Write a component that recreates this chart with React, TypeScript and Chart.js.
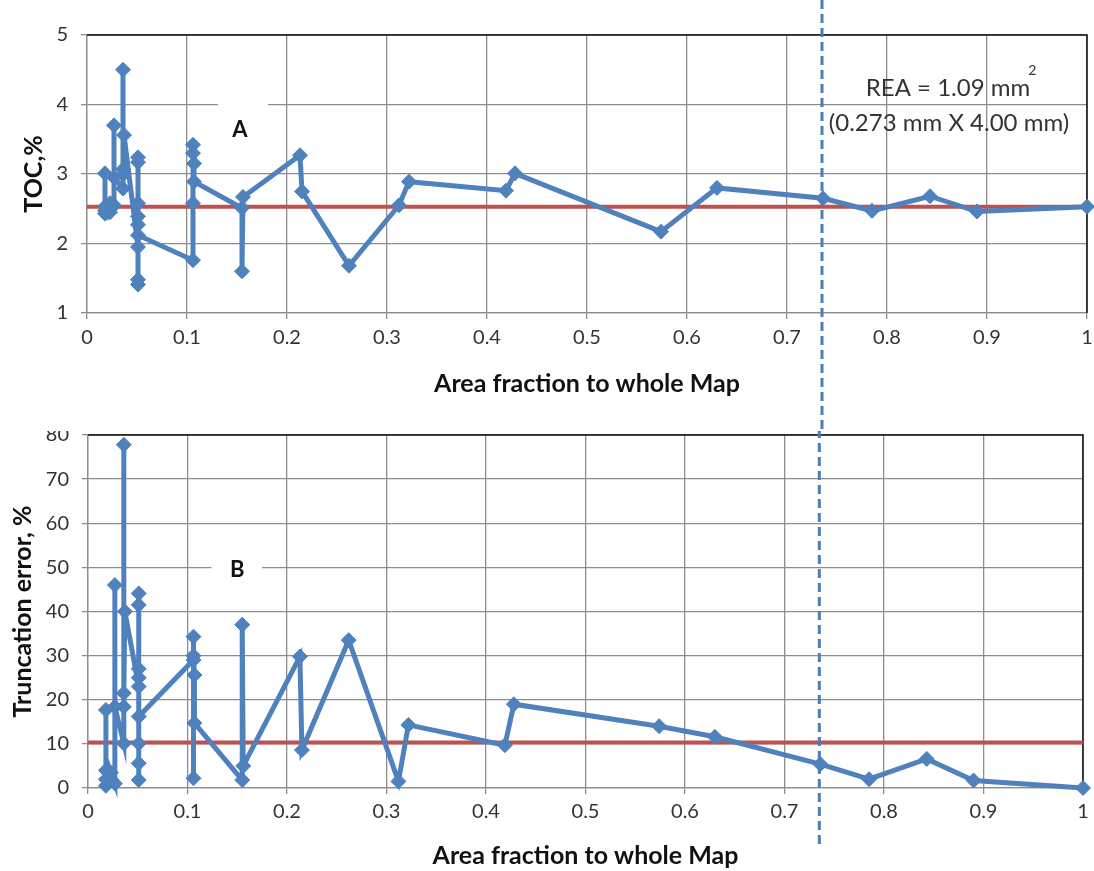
import React, { useEffect, useRef } from "react";
import { Chart, registerables } from "chart.js";
Chart.register(...registerables);

// ---- data ----
const areaFraction = [
  0.018, 0.018, 0.018, 0.018,
  0.023, 0.023,
  0.027, 0.027, 0.027,
  0.036, 0.036, 0.036, 0.036,
  0.037,
  0.051, 0.051, 0.051, 0.051, 0.051, 0.051, 0.051, 0.051, 0.051,
  0.106, 0.106, 0.106, 0.106, 0.107, 0.107,
  0.155, 0.155, 0.156,
  0.213, 0.215, 0.262, 0.312, 0.322, 0.419, 0.428, 0.574, 0.63, 0.736, 0.785, 0.843, 0.89, 1.0,
];
const tocValues = [
  2.53, 2.43, 3.01, 2.47,
  2.58, 2.45,
  2.55, 3.7, 2.95,
  2.79, 2.99, 4.5, 3.07,
  3.56,
  1.95, 1.48, 1.41, 2.39, 2.58, 3.17, 3.24, 2.27, 2.12,
  1.76, 2.58, 3.42, 3.3, 3.15, 2.89,
  2.51, 1.6, 2.67,
  3.27, 2.75, 1.68, 2.55, 2.89, 2.76, 3.01, 2.17, 2.8, 2.65, 2.47, 2.68, 2.46, 2.53,
];
const truncErrorValues = [
  0.5, 4, 17.7, 2,
  2, 3.5,
  1, 46, 18.4,
  10.1, 18.4, 77.8, 21.5,
  40,
  23, 41.5, 44.1, 5.6, 1.8, 25, 27, 10.1, 16.2,
  29, 2.2, 34.3, 30, 25.6, 14.7,
  1.8, 37, 5,
  29.8, 8.6, 33.5, 1.5, 14.3, 9.7, 19, 14, 11.6, 5.4, 2.0, 6.6, 1.7, 0,
];
const tocWholeMap = 2.53;
const truncLimit = 10.3;
const reaFraction = 0.735;
const xTicks = [0, 0.1, 0.2, 0.3, 0.4, 0.5, 0.6, 0.7, 0.8, 0.9, 1];
const tocTicks = [1, 2, 3, 4, 5];
const errTicks = [0, 10, 20, 30, 40, 50, 60, 70, 80];
const reaLine1 = "REA = 1.09 mm";
const reaLine2 = "(0.273 mm X 4.00 mm)";
const xTitle = "Area fraction to whole Map";

const FONT = "Lato, 'Open Sans', sans-serif";
const BLUE = "#4f81bd";
const RED = "#c0504d";
const GRID = "#8c8c8c";
const TEXT = "#333333";
const CANVAS_W = 1124;

type Cfg = {
  values: number[];
  refValue: number;
  ticks: number[];
  yTitle: string;
  yTitlePad: number;
  padding: { top: number; right: number; bottom: number; left: number };
  yWidth: number;
  xHeight: number;
  xTickPad: number;
  label: string;
  labelPos: [number, number];
  labelBox: [number, number, number, number];
  dashBelow: number | null;
  rea: boolean;
};

function makeChart(canvas: HTMLCanvasElement, c: Cfg) {
  const yMin = c.ticks[0];
  const yMax = c.ticks[c.ticks.length - 1];
  const overlay = {
    id: "overlay",
    beforeDatasetsDraw(chart: any) {
      const { ctx, chartArea, scales } = chart;
      const xs = scales.x, ys = scales.y;
      ctx.save();
      ctx.strokeStyle = "#111";
      ctx.lineWidth = 1.5;
      ctx.beginPath();
      ctx.moveTo(chartArea.left, chartArea.top);
      ctx.lineTo(chartArea.right, chartArea.top);
      ctx.lineTo(chartArea.right, chartArea.bottom);
      ctx.stroke();
      const [bx0, by0, bx1, by1] = c.labelBox;
      const px0 = xs.getPixelForValue(bx0), px1 = xs.getPixelForValue(bx1);
      const py0 = ys.getPixelForValue(by0), py1 = ys.getPixelForValue(by1);
      ctx.fillStyle = "#fff";
      ctx.fillRect(px0, py0, px1 - px0, py1 - py0);
      ctx.fillStyle = "#111";
      ctx.font = `bold 22px ${FONT}`;
      ctx.textAlign = "center";
      ctx.textBaseline = "middle";
      ctx.fillText(c.label, xs.getPixelForValue(c.labelPos[0]), ys.getPixelForValue(c.labelPos[1]));
      if (c.rea) {
        ctx.fillStyle = TEXT;
        ctx.font = `24px ${FONT}`;
        const cx = xs.getPixelForValue(0.861);
        const y1 = ys.getPixelForValue(4.24);
        const y2 = ys.getPixelForValue(3.73);
        ctx.fillText(reaLine1, cx, y1);
        const w = ctx.measureText(reaLine1).width;
        ctx.font = `14px ${FONT}`;
        ctx.fillText("2", cx + w / 2 + 2, y1 - 17);
        ctx.font = `24px ${FONT}`;
        ctx.fillText(reaLine2, xs.getPixelForValue(0.862), y2);
      }
      ctx.restore();
    },
    afterDatasetsDraw(chart: any) {
      const { ctx, chartArea, scales } = chart;
      const x = scales.x.getPixelForValue(reaFraction);
      ctx.save();
      ctx.strokeStyle = "#4a7ebb";
      ctx.lineWidth = 3;
      ctx.setLineDash([9, 5]);
      ctx.beginPath();
      ctx.moveTo(x, 0);
      ctx.lineTo(x, c.dashBelow === null ? chart.height : chartArea.bottom + c.dashBelow);
      ctx.stroke();
      ctx.restore();
    },
  };

  return new Chart(canvas, {
    type: "line",
    data: {
      datasets: [
        {
          data: areaFraction.map((x, i) => ({ x, y: c.values[i] })),
          borderColor: BLUE,
          backgroundColor: BLUE,
          borderWidth: 5,
          pointStyle: "rectRot",
          pointRadius: 7.5,
          pointBorderWidth: 1,
          pointBackgroundColor: BLUE,
          pointBorderColor: BLUE,
          tension: 0,
          clip: false,
          order: 0,
        } as any,
        {
          data: [
            { x: xTicks[0], y: c.refValue },
            { x: xTicks[xTicks.length - 1], y: c.refValue },
          ],
          borderColor: RED,
          borderWidth: 4,
          pointRadius: 0,
          order: 1,
        },
      ],
    },
    options: {
      animation: false,
      responsive: false,
      devicePixelRatio: 1,
      layout: { padding: c.padding },
      plugins: { legend: { display: false }, tooltip: { enabled: false } },
      scales: {
        x: {
          type: "linear",
          min: xTicks[0],
          max: xTicks[xTicks.length - 1],
          afterBuildTicks: (s: any) => {
            s.ticks = xTicks.map((v) => ({ value: v }));
          },
          afterFit: (s: any) => {
            s.height = c.xHeight;
          },
          grid: { color: GRID, lineWidth: 1.3, tickLength: 6 },
          border: { color: GRID, width: 1.3 },
          ticks: {
            color: TEXT,
            font: { family: FONT, size: 20 },
            padding: c.xTickPad,
            maxRotation: 0,
            autoSkip: false,
            callback: (v: any) => String(v),
          },
          title: {
            display: true,
            text: xTitle,
            color: "#111",
            font: { family: FONT, size: 25, weight: "bold" },
            padding: 0,
          },
        },
        y: {
          type: "linear",
          min: yMin,
          max: yMax,
          afterBuildTicks: (s: any) => {
            s.ticks = c.ticks.map((v) => ({ value: v }));
          },
          afterFit: (s: any) => {
            s.width = c.yWidth;
          },
          grid: { color: GRID, lineWidth: 1.3, tickLength: 6 },
          border: { color: GRID, width: 1.3 },
          ticks: {
            color: TEXT,
            font: { family: FONT, size: 20 },
            padding: 13,
            autoSkip: false,
            callback: (v: any) => String(v),
          },
          title: {
            display: true,
            text: c.yTitle,
            color: "#111",
            font: { family: FONT, size: 25, weight: "bold" },
            padding: { top: c.yTitlePad, bottom: 0 },
          },
        },
      },
    },
    plugins: [overlay],
  } as any);
}

function ChartCanvas({ cfg, top, height, clipTop }: { cfg: Cfg; top: number; height: number; clipTop: number }) {
  const ref = useRef<HTMLCanvasElement>(null);
  useEffect(() => {
    if (!ref.current) return;
    const ch = makeChart(ref.current, cfg);
    return () => ch.destroy();
  }, []);
  return (
    <canvas
      ref={ref}
      width={CANVAS_W}
      height={height}
      style={{
        position: "absolute",
        left: 0,
        top,
        width: CANVAS_W,
        height,
        display: "block",
        clipPath: `inset(${clipTop}px 0 0 0)`,
      }}
    />
  );
}

const topCfg: Cfg = {
  values: tocValues,
  refValue: tocWholeMap,
  ticks: tocTicks,
  yTitle: "TOC,%",
  yTitlePad: 19,
  padding: { top: 35, right: 37, bottom: 32, left: 0 },
  yWidth: 87,
  xHeight: 86,
  xTickPad: 7,
  label: "A",
  labelPos: [0.153, 3.63],
  labelBox: [0.131, 4.08, 0.181, 3.2],
  dashBelow: null,
  rea: true,
};

const bottomCfg: Cfg = {
  values: truncErrorValues,
  refValue: truncLimit,
  ticks: errTicks,
  yTitle: "Truncation error, %",
  yTitlePad: 8,
  padding: { top: 34, right: 41, bottom: 0, left: 0 },
  yWidth: 88,
  xHeight: 83,
  xTickPad: 6,
  label: "B",
  labelPos: [0.15, 49.4],
  labelBox: [0.124, 55, 0.175, 43],
  dashBelow: 57,
  rea: false,
};

export default function App() {
  return (
    <div
      style={{
        position: "absolute",
        left: 0,
        top: 0,
        width: 1094,
        height: 871,
        background: "#fff",
        overflow: "hidden",
      }}
    >
      <ChartCanvas cfg={topCfg} top={0} height={431} clipTop={0} />
      <ChartCanvas cfg={bottomCfg} top={401} height={470} clipTop={30} />
    </div>
  );
}
